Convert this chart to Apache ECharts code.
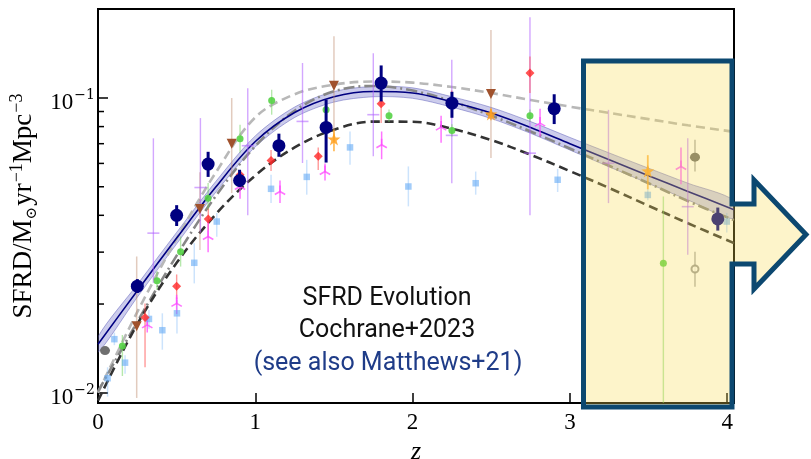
<!DOCTYPE html>
<html><head><meta charset="utf-8">
<script src="https://cdn.jsdelivr.net/npm/echarts@6/dist/echarts.min.js"></script>
<style>html,body{margin:0;padding:0;background:#fff}#c{width:811px;height:459px}</style>
</head><body><div id="c"></div>
<script>
// ---------- model curves (read at these redshifts) ----------
const curveZ    = [0, 0.25, 0.5, 0.75, 1.0, 1.25, 1.5, 1.75, 2.0, 2.25, 2.5, 2.75, 3.0, 3.25, 3.5, 3.75, 4.043];
const navyFit   = [0.0146, 0.0222, 0.0335, 0.0500, 0.0712, 0.0893, 0.1010, 0.1052, 0.1040, 0.0970, 0.0890, 0.0795, 0.0700, 0.0617, 0.0545, 0.0482, 0.0418];
const navyLo    = [0.0137, 0.0211, 0.0320, 0.0480, 0.0683, 0.0859, 0.0969, 0.1010, 0.0998, 0.0931, 0.0852, 0.0759, 0.0666, 0.0584, 0.0513, 0.0451, 0.0389];
const navyHi    = [0.0155, 0.0233, 0.0350, 0.0522, 0.0744, 0.0932, 0.1052, 0.1095, 0.1083, 0.1010, 0.0929, 0.0832, 0.0735, 0.0651, 0.0578, 0.0514, 0.0449];
const greyDash  = [0.0100, 0.0188, 0.0333, 0.0560, 0.0860, 0.1030, 0.1110, 0.1138, 0.1128, 0.1090, 0.1040, 0.0985, 0.0935, 0.0890, 0.0848, 0.0808, 0.0768];
const greyDashDot = [0.0101, 0.0174, 0.0292, 0.0466, 0.0687, 0.0905, 0.1054, 0.1099, 0.1060, 0.0974, 0.0872, 0.0770, 0.0674, 0.0589, 0.0514, 0.0447, 0.0385];
const blackDash = [0.0094, 0.0171, 0.0276, 0.0404, 0.0546, 0.0680, 0.0781, 0.0832, 0.0831, 0.0787, 0.0720, 0.0642, 0.0565, 0.0495, 0.0431, 0.0376, 0.0322];

// ---------- Cochrane+2023 points ----------
const navyZ  = [0.25, 0.50, 0.70, 0.90, 1.15, 1.45, 1.80, 2.25, 2.90, 3.94];
const navyV  = [0.0230, 0.0400, 0.0597, 0.0525, 0.0689, 0.0795, 0.1124, 0.0961, 0.0920, 0.0389];
const navyEL = [0.0218, 0.0368, 0.0540, 0.0500, 0.0632, 0.0604, 0.0974, 0.0857, 0.0816, 0.0355];
const navyEH = [0.0243, 0.0433, 0.0657, 0.0571, 0.0757, 0.0987, 0.1290, 0.1050, 0.1030, 0.0425];

// ---------- literature compilations ----------
const greenZ  = [0.155, 0.375, 0.525, 0.70, 0.903, 1.104, 1.45, 1.85, 2.25, 2.746, 3.594];
const greenV  = [0.0144, 0.0240, 0.0301, 0.0457, 0.0727, 0.0981, 0.0913, 0.0871, 0.0776, 0.0871, 0.0275];
const greenLo = [0.0114, 0.0223, 0.0268, 0.0418, 0.0652, 0.0878, 0.0860, 0.0830, 0.0740, 0.0830, 0.0060];
const greenHi = [0.0157, 0.0258, 0.0339, 0.0515, 0.0812, 0.1067, 0.0970, 0.0915, 0.0815, 0.0915, 0.0463];

const redZ  = [0.299, 0.50, 0.701, 0.903, 1.10, 1.40, 1.80, 2.249, 2.746];
const redV  = [0.0180, 0.0230, 0.0389, 0.0549, 0.0614, 0.0634, 0.0956, 0.0979, 0.1216];
const redLo = [0.0122, 0.0208, 0.0355, 0.0505, 0.0565, 0.0570, 0.0822, 0.0900, 0.1040];
const redHi = [0.0201, 0.0252, 0.0422, 0.0570, 0.0666, 0.0680, 0.1040, 0.1060, 0.1384];

const blueZ  = [0.061, 0.104, 0.172, 0.324, 0.409, 0.502, 0.612, 0.755, 1.10, 1.327, 1.602, 1.973, 2.401, 2.922, 3.495, 3.997];
const blueV  = [0.0112, 0.0152, 0.01265, 0.0178, 0.0163, 0.0186, 0.0276, 0.0381, 0.0492, 0.0540, 0.0680, 0.0501, 0.0514, 0.0528, 0.0469, 0.0381];
const blueLo = [0.0097, 0.0145, 0.0116, 0.0165, 0.0140, 0.0159, 0.0235, 0.0338, 0.0440, 0.0470, 0.0594, 0.0429, 0.0470, 0.0480, 0.0450, 0.0350];
const blueHi = [0.0122, 0.0160, 0.0134, 0.0191, 0.0186, 0.0207, 0.0322, 0.0407, 0.0549, 0.0617, 0.0770, 0.0586, 0.0563, 0.0575, 0.0490, 0.0407];

const brownZ  = [0.246, 0.648, 0.85, 1.50, 2.498];
const brownV  = [0.0168, 0.0420, 0.0700, 0.1100, 0.1032];
const brownLo = [0.0096, 0.0305, 0.0476, 0.0713, 0.0626];
const brownHi = [0.0290, 0.0560, 0.1000, 0.1620, 0.1700];

const starZ  = [1.50, 2.498, 3.495];
const starV  = [0.0726, 0.0883, 0.0566];
const starLo = [0.0660, 0.0840, 0.0490];
const starHi = [0.0780, 0.0920, 0.0640];

const triZ  = [0.313, 0.50, 0.70, 0.903, 1.157, 1.443, 1.803, 2.181, 2.81, 3.706];
const triV  = [0.0170, 0.0201, 0.0339, 0.0501, 0.0482, 0.0563, 0.0694, 0.0797, 0.0822, 0.0586];
const triLo = [0.0160, 0.0185, 0.0300, 0.0455, 0.0440, 0.0525, 0.0620, 0.0705, 0.0740, 0.0510];
const triHi = [0.0180, 0.0215, 0.0385, 0.0530, 0.0525, 0.0600, 0.0770, 0.0870, 0.0920, 0.0680];

const plusZ  = [0.352, 0.651, 0.952, 1.30, 1.75, 2.249, 2.746, 3.245, 3.749];
const plusV  = [0.0348, 0.0497, 0.0689, 0.0833, 0.0878, 0.0747, 0.0650, 0.0601, 0.0428];
const plusLo = [0.0236, 0.0350, 0.0400, 0.0602, 0.0634, 0.0514, 0.0400, 0.0440, 0.0294];
const plusHi = [0.0730, 0.0855, 0.1080, 0.1315, 0.1420, 0.1350, 0.1880, 0.0912, 0.0731];

const greyZ  = [0.0445, 3.795];
const greyV  = [0.0139, 0.0630];
const greyLo = [0.0139, 0.0563];
const greyHi = [0.0139, 0.0722];
const openZ  = [3.795];
const openV  = [0.0263];
const openLo = [0.0229];
const openHi = [0.0301];

// ---------- axes ----------
const xTicks = [0, 1, 2, 3, 4];
const yMinorTicks = [0.02, 0.03, 0.04, 0.05, 0.06, 0.07, 0.08, 0.09];
const yMajorLabels = {'-1': '−1', '-2': '−2'};

// ---------- helpers ----------
function pts(zs, vs) { return zs.map((z, i) => [z, vs[i]]); }
function errData(zs, vs, lo, hi) { return zs.map((z, i) => [z, vs[i], lo[i], hi[i]]); }
function errSeries(zs, vs, lo, hi, color, width, zlev, extra) {
  return {
    type: 'custom', clip: true, z: zlev, silent: true,
    data: errData(zs, vs, lo, hi),
    encode: {x: 0, y: 1},
    renderItem: function (params, api) {
      const z = api.value(0), v = api.value(1);
      const a = api.coord([z, api.value(2)]), b = api.coord([z, api.value(3)]), c = api.coord([z, v]);
      const children = [{type: 'line', shape: {x1: a[0], y1: a[1], x2: b[0], y2: b[1]}, style: {stroke: color, lineWidth: width}}];
      if (extra === 'plus') {
        children.push({type: 'line', shape: {x1: c[0] - 6, y1: c[1], x2: c[0] + 6, y2: c[1]}, style: {stroke: color, lineWidth: 1.6}});
      } else if (extra === 'tri') {
        const r = 6;
        children.push({type: 'line', shape: {x1: c[0], y1: c[1], x2: c[0], y2: c[1] - r}, style: {stroke: color, lineWidth: 1.6}});
        children.push({type: 'line', shape: {x1: c[0], y1: c[1], x2: c[0] - r * 0.866, y2: c[1] + r * 0.5}, style: {stroke: color, lineWidth: 1.6}});
        children.push({type: 'line', shape: {x1: c[0], y1: c[1], x2: c[0] + r * 0.866, y2: c[1] + r * 0.5}, style: {stroke: color, lineWidth: 1.6}});
      }
      return {type: 'group', children: children};
    }
  };
}
function scat(zs, vs, symbol, size, color, zlev, opts) {
  return Object.assign({
    type: 'scatter', z: zlev, silent: true, symbol: symbol, symbolSize: size,
    itemStyle: {color: color, opacity: 1},
    data: pts(zs, vs)
  }, opts || {});
}
function curve(vals, color, width, dash, zlev) {
  return {type: 'line', z: zlev, silent: true, showSymbol: false, smooth: 0.35,
    lineStyle: {color: color, width: width, type: dash},
    data: pts(curveZ, vals)};
}

const SERIF = 'Liberation Serif';
const starPath = 'path://M12,0 L14.9,8.3 L23.4,8.6 L16.6,13.9 L19.1,22.2 L12,17.2 L4.9,22.2 L7.4,13.9 L0.6,8.6 L9.1,8.3 Z';

const chart = echarts.init(document.getElementById('c'), null, {renderer: 'canvas'});
chart.setOption({
  animation: false,
  backgroundColor: '#fff',
  grid: {left: 98, right: 77, top: 9, bottom: 56, containLabel: false, outerBoundsMode: 'none',
    show: true, borderColor: '#000', borderWidth: 2, backgroundColor: 'transparent'},
  xAxis: {
    type: 'value', min: 0, max: 4.043, interval: 1,
    axisLine: {show: true, lineStyle: {color: '#000', width: 2}},
    axisTick: {show: true, inside: true, length: 10, lineStyle: {color: '#000', width: 1.5}},
    splitLine: {show: false},
    axisLabel: {margin: 8, color: '#000', fontFamily: SERIF, fontSize: 23,
      formatter: function (v) { return xTicks.indexOf(v) >= 0 ? String(v) : ''; }},
    name: 'z', nameLocation: 'middle', nameGap: 30,
    nameTextStyle: {fontFamily: SERIF, fontStyle: 'italic', fontSize: 26, color: '#000'}
  },
  yAxis: {
    type: 'log', logBase: 10, min: 0.00923, max: 0.2005,
    axisLine: {show: true, lineStyle: {color: '#000', width: 2}},
    axisTick: {show: true, inside: true, length: 10, lineStyle: {color: '#000', width: 1.5}},
    minorTick: {show: false},
    splitLine: {show: false},
    axisLabel: {
      margin: 3,
      formatter: function (v) {
        const e = Math.log10(v), r = Math.round(e);
        if (Math.abs(e - r) > 1e-6 || !yMajorLabels[String(r)]) return '';
        return '{b|10}{s|' + yMajorLabels[String(r)] + '}';
      },
      rich: {
        b: {fontFamily: SERIF, fontSize: 23, lineHeight: 23, color: '#000', verticalAlign: 'top', padding: [5, 0, 0, 0]},
        s: {fontFamily: 'DejaVu Serif', fontSize: 14, lineHeight: 14, color: '#000', verticalAlign: 'top', padding: [2, 0, 0, 1]}
      }
    },
    name: '{n|SFRD/M}{sub|⊙}{n|yr}{sup|−1}{n|Mpc}{sup|−3}',
    nameLocation: 'middle', nameGap: 56, nameRotate: 90,
    nameTextStyle: {
      rich: {
        n: {fontFamily: SERIF, fontSize: 27, lineHeight: 27, color: '#000', verticalAlign: 'top', padding: [8, 0, 0, 0]},
        sup: {fontFamily: SERIF, fontSize: 18, lineHeight: 18, color: '#000', verticalAlign: 'top', padding: [6, 0, 0, 1]},
        sub: {fontFamily: 'DejaVu Serif', fontSize: 15, lineHeight: 15, color: '#000', verticalAlign: 'top', padding: [22, 1, 0, 0]}
      }
    }
  },
  series: [
    {
      type: 'custom', clip: true, z: 1, silent: true,
      data: curveZ.map((z, i) => [z, navyFit[i], navyLo[i], navyHi[i]]),
      encode: {x: 0, y: 1},
      renderItem: function (params, api) {
        if (params.dataIndex !== 0) return null;
        const up = curveZ.map((z, i) => api.coord([z, navyHi[i]]));
        const lo = curveZ.map((z, i) => api.coord([z, navyLo[i]])).reverse();
        return {type: 'polygon', shape: {points: up.concat(lo), smooth: 0.3},
          style: {fill: 'rgba(95,95,195,0.32)', stroke: 'rgba(80,80,180,0.45)', lineWidth: 1}};
      }
    },
    curve(greyDash, '#b8b8b8', 2.6, [9, 5], 2),
    curve(greyDashDot, '#878787', 2.6, [11, 4, 2, 4], 2),
    curve(blackDash, '#333333', 2.6, [9, 5], 2),
    curve(navyFit, '#000080', 1.6, 'solid', 3),

    errSeries(blueZ, blueV, blueLo, blueHi, 'rgba(110,175,245,0.35)', 1.5, 4),
    errSeries(brownZ, brownV, brownLo, brownHi, 'rgba(190,140,110,0.45)', 1.5, 4),
    errSeries(plusZ, plusV, plusLo, plusHi, 'rgba(175,95,255,0.55)', 1.4, 4, 'plus'),
    errSeries(greenZ, greenV, greenLo, greenHi, 'rgba(110,210,90,0.5)', 1.4, 4),
    errSeries(redZ, redV, redLo, redHi, 'rgba(255,70,70,0.55)', 1.4, 4),
    errSeries(starZ, starV, starLo, starHi, 'rgba(255,165,40,0.75)', 1.8, 4),
    errSeries(triZ, triV, triLo, triHi, 'rgba(255,70,255,0.75)', 1.5, 5, 'tri'),
    errSeries(greyZ, greyV, greyLo, greyHi, 'rgba(120,120,120,0.6)', 1.4, 4),
    errSeries(openZ, openV, openLo, openHi, 'rgba(120,120,120,0.6)', 1.4, 4),

    scat(blueZ, blueV, 'rect', 6.5, 'rgba(100,170,245,0.6)', 5),
    scat(brownZ, brownV, 'triangle', 10, '#a0522d', 6, {symbolRotate: 180}),
    scat(greenZ, greenV, 'circle', 7, 'rgba(85,210,70,0.9)', 6),
    scat(redZ, redV, 'diamond', 9, 'rgba(255,40,40,0.8)', 6),
    scat(starZ, starV, starPath, 13, 'rgba(255,160,30,0.85)', 6),
    scat(greyZ, greyV, 'circle', [10, 9], '#6f6f6f', 6),
    scat(openZ, openV, 'emptyCircle', 7, '#888', 6, {itemStyle: {color: '#888', borderColor: '#888', borderWidth: 1}}),

    errSeries(navyZ, navyV, navyEL, navyEH, '#000080', 3, 8),
    scat(navyZ, navyV, 'circle', 13, '#000080', 9),

    {
      type: 'custom', clip: false, z: 10, silent: true,
      data: yMinorTicks.map(v => [0, v]),
      encode: {x: 0, y: 1},
      renderItem: function (params, api) {
        const p = api.coord([0, api.value(1)]);
        return {type: 'line', shape: {x1: p[0], y1: p[1], x2: p[0] + 6, y2: p[1]}, style: {stroke: '#000', lineWidth: 1.5}};
      }
    }
  ],
  graphic: [
    {type: 'text', z: 50, x: 387, y: 299, style: {text: 'SFRD Evolution', fontFamily: 'Roboto', fontSize: 25, fill: '#111', align: 'center', verticalAlign: 'middle'}},
    {type: 'text', z: 50, x: 387, y: 331, style: {text: 'Cochrane+2023', fontFamily: 'Roboto', fontSize: 25, fill: '#111', align: 'center', verticalAlign: 'middle'}},
    {type: 'text', z: 50, x: 388, y: 364, style: {text: '(see also Matthews+21)', fontFamily: 'Roboto', fontSize: 25, fill: '#1f3c88', align: 'center', verticalAlign: 'middle'}},
    {type: 'polygon', z: 100, silent: true,
      shape: {points: [[583.5, 61], [732, 61], [732, 204], [754, 204], [754, 180], [806, 234.5], [754, 289], [754, 264], [732, 264], [732, 407], [583.5, 407]]},
      style: {fill: 'rgba(250,218,80,0.3)', stroke: '#0c4870', lineWidth: 5, lineJoin: 'miter'}}
  ]
});
</script></body></html>
